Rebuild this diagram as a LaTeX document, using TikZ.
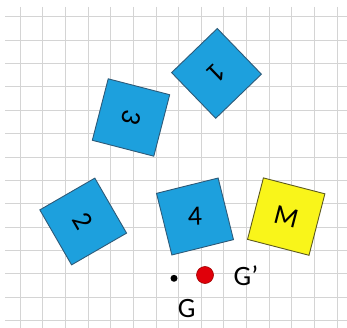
\documentclass[tikz,border=0pt]{standalone}
\usepackage{fontspec}
\setmainfont{Carlito}
\usepackage{tikz}
\usetikzlibrary{positioning}
\usepackage{xcolor}
\definecolor{gridgray}{HTML}{D4D4D4}
\definecolor{cardblue}{HTML}{1DA0DD}
\definecolor{cardedge}{HTML}{2E5A78}
\definecolor{cardyellow}{HTML}{F9F51A}
\definecolor{yellowedge}{HTML}{5E5A20}
\definecolor{dotred}{HTML}{E0000A}
\definecolor{dotedge}{HTML}{A00000}

\tikzset{
  card/.style={draw=cardedge, fill=cardblue, line width=0.9pt,
               minimum size=63.5pt, inner sep=0pt, rotate=#1,
               font=\fontsize{28}{30}\selectfont},
  lbl/.style={font=\fontsize{28}{30}\selectfont, inner sep=0pt}
}

\begin{document}
\begin{tikzpicture}[x=1pt, y=-1pt]
        \useasboundingbox (0,0) rectangle (347,328);
        % grid
        \foreach \k in {0,...,14}
          \draw[gridgray, line width=0.9pt] (20+22.66*\k,7) -- (20+22.66*\k,328);
        \foreach \k in {0,...,13}
          \draw[gridgray, line width=0.9pt] (5,16.7+23.38*\k) -- (347,16.7+23.38*\k);
        % cards
        \node[card=-136] (one) at (216.5,73.4) {1};
        \node[card=-104.5] (three) at (131,117.5) {3};
        \node[card=-60] (two) at (83.2,221.5) {2};
        \node[card=14] (four) at (195,216.5) {\rotatebox{-12}{4}};
        \node[card=-14.5, fill=cardyellow, draw=yellowedge] (m) at (286.2,216.6) {M};
        % centres of gravity
        \node[circle, fill=black, minimum size=7pt, inner sep=0pt] (g) at (174,278.3) {};
        \node[circle, fill=dotred, draw=dotedge, line width=0.6pt,
              minimum size=17pt, inner sep=0pt] (gp) at (205,275) {};
        \node[lbl] (glabel) at (186.7,308.3) {G};
        \node[lbl] (gplabel) at (246,276) {G’};
      \end{tikzpicture}
\end{document}
